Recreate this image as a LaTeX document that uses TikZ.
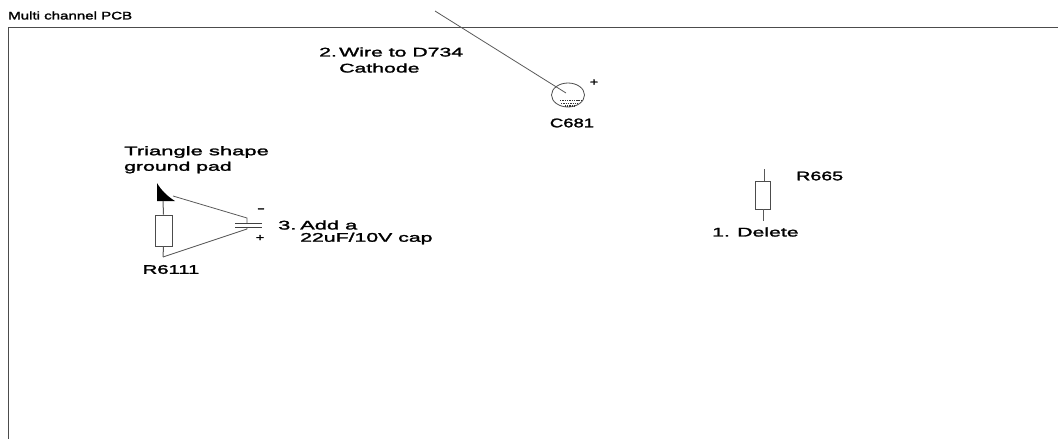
\documentclass[tikz,border=0pt]{standalone}
\usepackage{fontspec}
\usetikzlibrary{shapes.geometric}
\setmainfont{Liberation Sans}
\tikzset{
  lbl/.style={inner sep=0pt,font=\fontsize{12.5}{13}\selectfont\addfontfeatures{FakeStretch=#1,FakeBold=2},align=left,text=black,anchor=west},
  lbl/.default=1.7,
  wirex/.style={draw=black!65,line width=0.8pt},
  res/.style={draw=black!70,line width=0.9pt,fill=white,inner sep=0pt},
  plate/.style={draw=black!75,line width=0.9pt},
  sign/.style={inner sep=0pt,font=\fontsize{10}{10}\selectfont\addfontfeatures{FakeStretch=#1,FakeBold=3}},
  sign/.default=1.4
}
\begin{document}
\begin{tikzpicture}[x=1pt,y=-1pt]
\useasboundingbox (0,0) rectangle (1058,439);
% frame
\coordinate (fa) at (8,439);
\coordinate (fb) at (8,27);
\coordinate (fc) at (1058,27);
\draw[draw=black!70,line width=0.9pt] (fa) -- (fb) -- (fc);
\node[inner sep=0pt,anchor=west,font=\fontsize{11}{12}\selectfont\addfontfeatures{FakeStretch=1.37,FakeBold=2}] (title) at (8,15.5) {Multi channel PCB};
% C681
\node[draw=black!70,line width=0.8pt,ellipse,minimum width=33pt,minimum height=24pt,inner sep=0pt] (c681) at (568,95) {};
\coordinate (wtop) at (435,11);
\coordinate (wend) at (566,93);
\draw[wirex] (wtop) -- (wend);
\draw[black!80,line width=1.6pt,dash pattern=on 1.4pt off 0.9pt] (560,100.5) -- (581,100.5);
\draw[black!80,line width=1.6pt,dash pattern=on 1.4pt off 0.9pt] (561,103.5) -- (578,103.5);
\draw[black!80,line width=1.3pt,dash pattern=on 1.2pt off 1pt] (565,106) -- (574,106);
\node[sign] (cplus) at (594,82.5) {+};
\node[lbl=1.48,anchor=center] (c681l) at (572,123) {C681};
\node[lbl] (wire) at (319,52) {\makebox[20pt][l]{2.}Wire to D734};
\node[lbl] (cath) at (339,68) {Cathode};
% left group
\node[lbl=1.76] (tri) at (124,152) {Triangle shape};
\node[lbl] (gnd) at (124,167.5) {ground pad};
\fill[black] (157,183) .. controls (161,190) and (167,196) .. (175,201) -- (157,201) -- cycle;
\coordinate (padb) at (163,201);
\coordinate (padr) at (173,196);
\node[res,minimum width=17pt,minimum height=31pt] (r6111) at (163.5,230.5) {};
\coordinate (rb) at (163,257);
\draw[wirex,line width=1pt] (padb) -- (r6111.north);
\draw[wirex,line width=1pt] (r6111.south) -- (rb);
\coordinate (j1) at (247,218);
\coordinate (j2) at (247,229);
\coordinate (p1a) at (235,223);
\coordinate (p1b) at (262,223);
\coordinate (p2a) at (235,227.5);
\coordinate (p2b) at (262,227.5);
\coordinate (p1m) at (247,223);
\coordinate (p2m) at (247,227.5);
\draw[plate] (p1a) -- (p1b);
\draw[plate] (p2a) -- (p2b);
\draw[wirex] (padr) -- (j1) -- (p1m);
\draw[wirex] (rb) -- (j2) -- (p2m);
\node[sign=2.4] (minus) at (261,210) {-};
\node[sign] (plus) at (260,238) {+};
\node[lbl=1.62,anchor=center] (r6111l) at (171,269.5) {R6111};
\node[lbl=1.75] (add) at (278,225) {\makebox[22pt][l]{3.}Add a};
\node[lbl] (val) at (300,238.5) {22uF/10V cap};
% R665
\node[res,minimum width=15pt,minimum height=28pt] (r665) at (762.5,195) {};
\coordinate (r1) at (764,169);
\coordinate (r2) at (763,221);
\draw[wirex,line width=1pt] (r1) -- (r1|-r665.north);
\draw[wirex,line width=1pt] (r2|-r665.south) -- (r2);
\node[lbl=1.57] (r665l) at (796,176) {R665};
\node[lbl] (del) at (712,232) {\makebox[25pt][l]{1.}Delete};
\end{tikzpicture}
\end{document}
